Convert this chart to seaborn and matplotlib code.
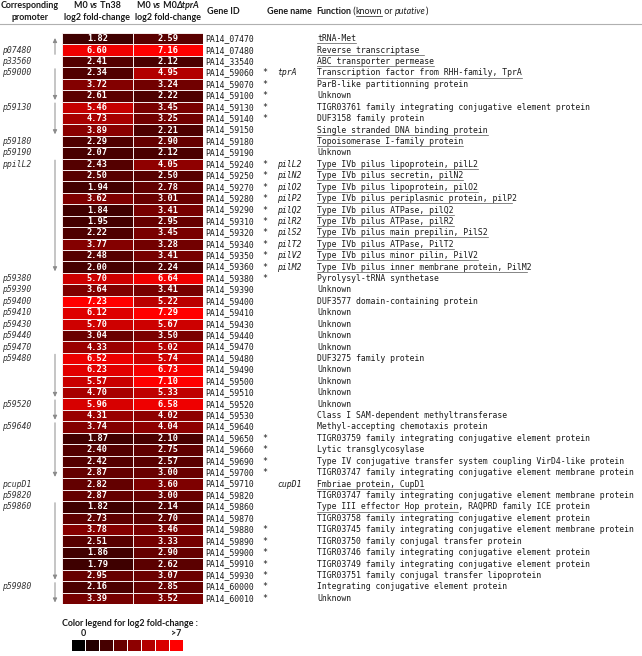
import numpy as np
import pandas as pd
import matplotlib
matplotlib.use("Agg")
import matplotlib.pyplot as plt
import seaborn as sns
from matplotlib.colors import LinearSegmentedColormap

# ---------------- data ----------------
gene_ids = ["PA14_07470", "PA14_07480", "PA14_33540", "PA14_59060", "PA14_59070",
            "PA14_59100", "PA14_59130", "PA14_59140", "PA14_59150", "PA14_59180",
            "PA14_59190", "PA14_59240", "PA14_59250", "PA14_59270", "PA14_59280",
            "PA14_59290", "PA14_59310", "PA14_59320", "PA14_59340", "PA14_59350",
            "PA14_59360", "PA14_59380", "PA14_59390", "PA14_59400", "PA14_59410",
            "PA14_59430", "PA14_59440", "PA14_59470", "PA14_59480", "PA14_59490",
            "PA14_59500", "PA14_59510", "PA14_59520", "PA14_59530", "PA14_59640",
            "PA14_59650", "PA14_59660", "PA14_59690", "PA14_59700", "PA14_59710",
            "PA14_59820", "PA14_59860", "PA14_59870", "PA14_59880", "PA14_59890",
            "PA14_59900", "PA14_59910", "PA14_59930", "PA14_60000", "PA14_60010"]

fc_tn38 = [1.82, 6.60, 2.41, 2.34, 3.72, 2.61, 5.46, 4.73, 3.89, 2.29,
           2.07, 2.43, 2.50, 1.94, 3.62, 1.84, 1.95, 2.22, 3.77, 2.48,
           2.00, 5.70, 3.64, 7.23, 6.12, 5.70, 3.04, 4.33, 6.52, 6.23,
           5.57, 4.70, 5.96, 4.31, 3.74, 1.87, 2.40, 2.42, 2.87, 2.82,
           2.87, 1.82, 2.73, 3.78, 2.51, 1.86, 1.79, 2.95, 2.16, 3.39]

fc_tpra = [2.59, 7.16, 2.12, 4.95, 3.24, 2.22, 3.45, 3.25, 2.21, 2.90,
           2.12, 4.05, 2.50, 2.78, 3.01, 3.41, 2.95, 3.45, 3.28, 3.41,
           2.24, 6.64, 3.41, 5.22, 7.29, 5.67, 3.50, 5.02, 5.74, 6.73,
           7.10, 5.33, 6.58, 4.02, 4.04, 2.10, 2.75, 2.57, 3.00, 3.60,
           3.00, 2.14, 2.70, 3.46, 3.33, 2.90, 2.62, 3.07, 2.85, 3.52]

starred = ["PA14_59060", "PA14_59070", "PA14_59100", "PA14_59130", "PA14_59140",
           "PA14_59240", "PA14_59250", "PA14_59270", "PA14_59280", "PA14_59290",
           "PA14_59310", "PA14_59320", "PA14_59340", "PA14_59350", "PA14_59360",
           "PA14_59380", "PA14_59650", "PA14_59660", "PA14_59690", "PA14_59700",
           "PA14_59880", "PA14_59890", "PA14_59900", "PA14_59910", "PA14_59930",
           "PA14_60000", "PA14_60010"]

gene_names = {"PA14_59060": "tprA", "PA14_59240": "pilL2", "PA14_59250": "pilN2",
              "PA14_59270": "pilO2", "PA14_59280": "pilP2", "PA14_59290": "pilQ2",
              "PA14_59310": "pilR2", "PA14_59320": "pilS2", "PA14_59340": "pilT2",
              "PA14_59350": "pilV2", "PA14_59360": "pilM2", "PA14_59710": "cupD1"}

functions = [
    "tRNA-Met", "Reverse transcriptase ", "ABC transporter permease",
    "Transcription factor from RHH-family, TprA", "ParB-like partitionning protein",
    "Unknown", "TIGR03761 family integrating conjugative element protein",
    "DUF3158 family protein", "Single stranded DNA binding protein",
    "Topoisomerase I-family protein", "Unknown",
    "Type IVb pilus lipoprotein, pilL2", "Type IVb pilus secretin, pilN2",
    "Type IVb pilus lipoprotein, pilO2", "Type IVb pilus periplasmic protein, pilP2",
    "Type IVb pilus ATPase, pilQ2", "Type IVb pilus ATPase, pilR2",
    "Type IVb pilus main prepilin, PilS2", "Type IVb pilus ATPase, PilT2",
    "Type IVb pilus minor pilin, PilV2", "Type IVb pilus inner membrane protein, PilM2",
    "Pyrolysyl-tRNA synthetase", "Unknown", "DUF3577 domain-containing protein",
    "Unknown", "Unknown", "Unknown", "Unknown", "DUF3275 family protein",
    "Unknown", "Unknown", "Unknown", "Unknown",
    "Class I SAM-dependent methyltransferase", "Methyl-accepting chemotaxis protein",
    "TIGR03759 family integrating conjugative element protein", "Lytic transglycosylase",
    "Type IV conjugative transfer system coupling VirD4-like protein",
    "TIGR03747 family integrating conjugative element membrane protein",
    "Fmbriae protein, CupD1",
    "TIGR03747 family integrating conjugative element membrane protein",
    "Type III effector Hop protein, RAQPRD family ICE protein",
    "TIGR03758 family integrating conjugative element protein",
    "TIGR03745 family integrating conjugative element membrane protein",
    "TIGR03750 family conjugal transfer protein",
    "TIGR03746 family integrating conjugative element protein",
    "TIGR03749 family integrating conjugative element protein",
    "TIGR03751 family conjugal transfer lipoprotein",
    "Integrating conjugative element protein", "Unknown"]

# number of leading characters of the function text that are underlined (known function)
known_chars = {0: 8, 1: 22, 2: 24, 3: 42, 8: 35, 9: 30, 11: 33, 12: 30, 13: 33, 14: 40,
               15: 28, 16: 28, 17: 35, 18: 28, 19: 33, 20: 43, 39: 22, 41: 29}

promoters = {1: "p07480", 2: "p33560", 3: "p59000", 6: "p59130", 9: "p59180",
             10: "p59190", 11: "ppilL2", 21: "p59380", 22: "p59390", 23: "p59400",
             24: "p59410", 25: "p59430", 26: "p59440", 27: "p59470", 28: "p59480",
             32: "p59520", 34: "p59640", 39: "pcupD1", 40: "p59820", 41: "p59860",
             48: "p59980"}

# operon arrows (from row, to row)
operon_arrows = [(1, 0), (3, 5), (6, 8), (11, 20), (28, 31), (32, 33), (34, 38),
                 (41, 47), (48, 49)]

legend_levels = [0, 1, 2, 3, 4, 5, 6, 7]
legend_low, legend_high = "0", ">7"

# ---------------- layout ----------------
W, H = 642, 656
fig = plt.figure(figsize=(W / 100, H / 100), dpi=100)
fig.patch.set_facecolor("white")

TOP, BOT = 33.0, 604.0
HX0, HX1 = 62.0, 203.0
n = len(gene_ids)
rh = (BOT - TOP) / n

def yc(i):
    return TOP + (i + 0.5) * rh

cmap = LinearSegmentedColormap.from_list("blkred", ["#000000", "#7a0000", "#ff0000"])

df = pd.DataFrame({"tn38": fc_tn38, "tpra": fc_tpra}, index=gene_ids)
hax = fig.add_axes([HX0 / W, 1 - BOT / H, (HX1 - HX0) / W, (BOT - TOP) / H])
sns.heatmap(df, ax=hax, cmap=cmap, vmin=0, vmax=7, annot=True, fmt=".2f", cbar=False,
            linewidths=0.6, linecolor="#f4eaea", xticklabels=False, yticklabels=False,
            annot_kws=dict(color="white", fontweight="bold", fontsize=6.2,
                           family="DejaVu Sans Mono"))
hax.set_xlabel(""); hax.set_ylabel("")

# legend swatches
lax = fig.add_axes([71 / W, 1 - 651 / H, 112 / W, 12 / H])
sns.heatmap(np.array([legend_levels]), ax=lax, cmap=cmap, vmin=0, vmax=7, cbar=False,
            linewidths=0.5, linecolor="white", xticklabels=False, yticklabels=False)
lax.set_aspect("auto")

ov = fig.add_axes([0, 0, 1, 1])
ov.set_xlim(0, W); ov.set_ylim(H, 0); ov.axis("off")

fig.canvas.draw()
renderer = fig.canvas.get_renderer()

MONO = "DejaVu Sans Mono"
HEAD = "Lato"
FS = 5.9
HFS = 6.4
TXT = "#1a1a1a"

def twidth(s, **kw):
    t = ov.text(0, 0, "|" + s + "|", **kw)
    t2 = ov.text(0, 0, "||", **kw)
    w = t.get_window_extent(renderer).width - t2.get_window_extent(renderer).width
    t.remove(); t2.remove()
    return w

def segments(x, y, segs, ha="left", **common):
    widths = [twidth(s, **common, **kw) for s, kw in segs]
    cur = x - sum(widths) / 2 if ha == "center" else x
    out = []
    for (s, kw), w in zip(segs, widths):
        out.append((ov.text(cur, y, s, va="center", ha="left", **common, **kw), cur, w))
        cur += w
    return out

hk = dict(family=HEAD, fontweight="bold", fontsize=HFS, color=TXT)
segments(30, 6, [("Corresponding", {})], ha="center", **hk)
segments(30, 17, [("promoter", {})], ha="center", **hk)
segments(97, 6, [("M0 ", {}), ("vs", dict(style="italic")), (" Tn38", {})], ha="center", **hk)
segments(97, 17, [("log2 fold-change", {})], ha="center", **hk)
segments(168, 6, [("M0 ", {}), ("vs", dict(style="italic")), (" M0", {}),
                  ("ΔtprA", dict(style="italic"))], ha="center", **hk)
segments(168, 17, [("log2 fold-change", {})], ha="center", **hk)
segments(207, 11.5, [("Gene ID", {})], **hk)
segments(267, 11.5, [("Gene name", {})], **hk)
fk = dict(family=HEAD, fontsize=HFS, color=TXT)
fs = segments(316, 11.5, [("Function", dict(fontweight="bold")), (" (", {}),
                          ("known", {}), (" or ", {}), ("putative", dict(style="italic")),
                          (")", {})], **fk)
_, kx, kw_ = fs[2]
ov.plot([kx, kx + kw_], [15.5, 15.5], color=TXT, lw=0.5)
ov.plot([0, W], [23.5, 23.5], color="#b0b0b0", lw=0.8)

cw = twidth("0" * 20, family=MONO, fontsize=FS) / 20
for i, gid in enumerate(gene_ids):
    y = yc(i)
    ov.text(205, y, gid, family=MONO, fontsize=FS, color=TXT, va="center", ha="left")
    if gid in starred:
        ov.text(262, y, "*", family=MONO, fontsize=FS, color=TXT, va="center", ha="left")
    if gid in gene_names:
        ov.text(277, y, gene_names[gid], family=MONO, fontsize=FS, style="italic",
                color=TXT, va="center", ha="left")
    ov.text(317, y, functions[i], family=MONO, fontsize=FS, color=TXT, va="center", ha="left")
    if i in known_chars:
        ov.plot([317, 317 + known_chars[i] * cw], [y + 4.6, y + 4.6], color="#555555", lw=0.5)

for i, p in promoters.items():
    ov.text(2, yc(i), p, family=MONO, fontsize=FS, style="italic", color="#333333",
            va="center", ha="left")

for a, b in operon_arrows:
    if b >= a:
        y0 = TOP + a * rh + 1.5
        y1 = TOP + (b + 1) * rh - 1.5
    else:
        y0 = TOP + (a + 1) * rh - 1.5
        y1 = TOP + b * rh + 5
    ov.annotate("", xy=(55, y1), xytext=(55, y0),
                arrowprops=dict(arrowstyle="-|>,head_length=0.25,head_width=0.12",
                                color="#8a8a8a", lw=0.7, shrinkA=0, shrinkB=0))

segments(62, 623, [("Color legend for log2 fold-change :", {})],
         family=HEAD, fontweight="bold", fontsize=HFS, color=TXT)
segments(83, 634, [(legend_low, {})], ha="center", family=HEAD, fontweight="bold",
         fontsize=HFS, color=TXT)
segments(176, 634, [(legend_high, {})], ha="center", family=HEAD, fontweight="bold",
         fontsize=HFS, color=TXT)

fig.savefig("out.png", dpi=100)
